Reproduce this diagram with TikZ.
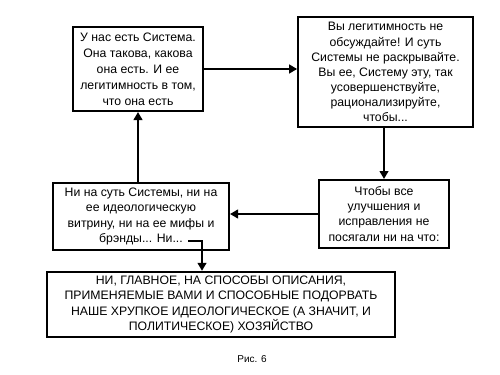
\documentclass[tikz,border=0pt]{standalone}
\usepackage{fontspec}
\setmainfont{Liberation Sans}
\usetikzlibrary{arrows.meta,positioning,calc}

\begin{document}
\begin{tikzpicture}[
  x=0.75pt, y=-0.75pt,
  font=\fontsize{9.2}{11.3}\selectfont,
  box/.style={draw, line width=1.5pt, align=center, inner sep=2pt},
  >={Triangle[length=6pt,width=6.5pt]}]
\useasboundingbox (0,0) rectangle (500,375);
% boxes
\node[box, minimum width=97.5pt, minimum height=63pt, font=\fontsize{9.2}{12}\selectfont] (sys) at (138,69)
  {У нас есть Система.\\Она такова, какова\\она есть. И ее\\легитимность в том,\\что она есть};
\node[box, minimum width=131pt, minimum height=82.5pt] (legit) at (385.5,72)
  {Вы легитимность не\\обсуждайте! И суть\\Системы не раскрывайте.\\Вы ее, Систему эту, так\\усовершенствуйте,\\рационализируйте,\\чтобы...};
\node[box, minimum width=97.5pt, minimum height=51pt] (improve) at (384,214)
  {Чтобы все\\улучшения и\\исправления не\\посягали ни на что:};
\node[box, minimum width=132pt, minimum height=50pt] (essence) at (141,216.5)
  {Ни на суть Системы, ни на\\ее идеологическую\\витрину, ни на ее мифы и\\брэнды... Ни...};
\node[box, minimum width=261pt, minimum height=49pt] (methods) at (221,304.5)
  {НИ, ГЛАВНОЕ, НА СПОСОБЫ ОПИСАНИЯ,\\ПРИМЕНЯЕМЫЕ ВАМИ И СПОСОБНЫЕ ПОДОРВАТЬ\\НАШЕ ХРУПКОЕ ИДЕОЛОГИЧЕСКОЕ (А ЗНАЧИТ, И\\ПОЛИТИЧЕСКОЕ) ХОЗЯЙСТВО};
\node[font=\fontsize{7.5}{9}\selectfont] (caption) at (252,359) {Рис. 6};
% connectors
\coordinate (ni) at (188,241);
\coordinate (drop) at (202,272);
\draw[->, line width=1.5pt] (sys.east) -- (legit.west |- sys.east);
\draw[->, line width=1.5pt] (legit.south -| improve.north) -- (improve.north);
\draw[->, line width=1.5pt] (improve.west) -- (essence.east |- improve.west);
\draw[->, line width=1.5pt] (essence.north -| sys.south) -- (sys.south);
\draw[->, line width=2pt] (ni) -| (methods.north -| drop);
\end{tikzpicture}
\end{document}
